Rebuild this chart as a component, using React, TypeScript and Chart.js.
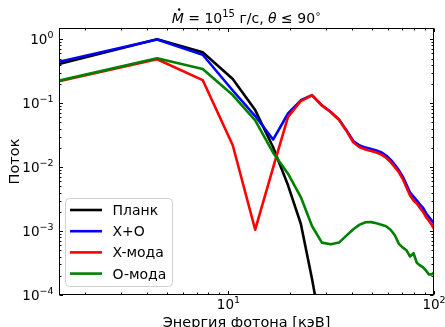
import React, { useEffect, useRef } from "react";
import { Chart, registerables } from "chart.js";

Chart.register(...registerables);

// ---- data ----
const energies = [
  1.5, 4.5, 7.5, 10.5, 13.5, 16.5, 19.5, 22.5, 25.5, 28.5, 31.5, 34.5, 37.5, 40.5, 43.5, 46.5, 49.5,
  52.5, 55.5, 58.5, 61.5, 64.5, 67.5, 70.5, 73.5, 76.5, 79.5, 82.5, 85.5, 88.5, 91.5, 94.5, 97.5, 100.5,
];

const planck = [
  0.41, 1.0, 0.625, 0.239, 0.078, 0.0205, 0.0052, 0.0013, 0.00018, 0.000025, 0.0000035, 0.0000004,
  null, null, null, null, null, null, null, null, null, null, null, null, null, null, null, null, null,
  null, null, null, null, null,
];

const xPlusO = [
  0.445, 0.995, 0.572, 0.158, 0.063, 0.027, 0.069, 0.111, 0.134, 0.0927, 0.0726, 0.0557, 0.0379,
  0.0256, 0.0218, 0.0202, 0.0192, 0.0182, 0.017, 0.0152, 0.0131, 0.0109, 0.0089, 0.0071, 0.0053,
  0.004, 0.00345, 0.003, 0.0026, 0.0023, 0.0019, 0.00166, 0.00146, 0.00128,
];

const xMode = [
  0.22, 0.486, 0.23, 0.022, 0.00105, 0.0098, 0.061, 0.108, 0.133, 0.092, 0.072, 0.055, 0.037,
  0.0245, 0.0205, 0.0188, 0.0178, 0.0169, 0.0157, 0.014, 0.012, 0.01, 0.0083, 0.0065, 0.0048,
  0.0036, 0.003, 0.0027, 0.0023, 0.002, 0.00165, 0.00145, 0.00125, 0.00105,
];

const oMode = [
  0.225, 0.505, 0.342, 0.134, 0.054, 0.0168, 0.0079, 0.0034, 0.0012, 0.00066, 0.00062, 0.00066,
  0.00085, 0.00107, 0.00126, 0.00137, 0.00138, 0.00132, 0.00126, 0.00119, 0.00105, 0.00086, 0.00063,
  0.00055, 0.0005, 0.0004, 0.00045, 0.00032, 0.00029, 0.00027, 0.00024, 0.00021, 0.00021, 0.00023,
];

const seriesLabels = ["Планк", "X+O", "X-мода", "O-мода"];
const seriesColors = ["#000000", "#0000ff", "#ff0000", "#008000"];
const seriesData = [planck, xPlusO, xMode, oMode];

const yTickValues = [1, 0.1, 0.01, 0.001, 0.0001];
const yTickExponents = ["0", "\u22121", "\u22122", "\u22123", "\u22124"];
const xTickValues = [10, 100];
const xTickExponents = ["1", "2"];

const xAxisTitle = "Энергия фотона [кэВ]";
const yAxisTitle = "Поток";

const X_MIN = 1.5;
const X_MAX = 100;
const Y_MIN = 1e-4;
const Y_MAX = 1.5;

const FONT = '"DejaVu Sans", sans-serif';

type Seg = { text: string; font: string; rise?: number; dot?: boolean };

function drawSegs(ctx: CanvasRenderingContext2D, segs: Seg[], x: number, baseline: number, align: string) {
  const widths = segs.map((s) => {
    ctx.font = s.font;
    return ctx.measureText(s.text).width;
  });
  const total = widths.reduce((a, b) => a + b, 0);
  let cx = align === "left" ? x : align === "center" ? x - total / 2 : x - total;
  ctx.textAlign = "left";
  ctx.textBaseline = "alphabetic";
  segs.forEach((s, i) => {
    ctx.font = s.font;
    ctx.fillText(s.text, cx, baseline - (s.rise || 0));
    if (s.dot) {
      ctx.beginPath();
      ctx.arc(cx + widths[i] * 0.62, baseline - 13.5, 1.2, 0, Math.PI * 2);
      ctx.fill();
    }
    cx += widths[i];
  });
}

const decorPlugin = {
  id: "decor",
  afterDraw(chart: any) {
    const ctx: CanvasRenderingContext2D = chart.ctx;
    const { left, right, top, bottom } = chart.chartArea;
    const xs = chart.scales.x;
    const ys = chart.scales.y;
    ctx.save();
    ctx.fillStyle = "#000";
    ctx.strokeStyle = "#000";
    ctx.lineWidth = 1;

    const L = Math.round(left) + 0.5;
    const R = Math.round(right) - 0.5;
    const T = Math.round(top) + 0.5;
    const B = Math.round(bottom) - 0.5;

    // ticks (inward, all four sides)
    const tick = (x1: number, y1: number, x2: number, y2: number) => {
      ctx.beginPath();
      ctx.moveTo(x1, y1);
      ctx.lineTo(x2, y2);
      ctx.stroke();
    };
    const majorLen = 3.5;
    const minorLen = 2;
    for (let d = -1; d <= 2; d++) {
      for (let m = 1; m <= 9; m++) {
        const v = m * Math.pow(10, d);
        if (v < X_MIN || v > X_MAX) continue;
        const len = m === 1 ? majorLen : minorLen;
        const px = Math.round(xs.getPixelForValue(v)) + 0.5;
        tick(px, B, px, B - len);
        tick(px, T, px, T + len);
      }
    }
    for (let d = -5; d <= 1; d++) {
      for (let m = 1; m <= 9; m++) {
        const v = m * Math.pow(10, d);
        if (v < Y_MIN * 0.999 || v > Y_MAX) continue;
        const len = m === 1 ? majorLen : minorLen;
        const py = Math.round(ys.getPixelForValue(v)) + 0.5;
        tick(L, py, L + len, py);
        tick(R, py, R - len, py);
      }
    }
    // frame
    ctx.strokeRect(L, T, R - L, B - T);

    // tick labels
    const tickFont = `13.5px ${FONT}`;
    const supFont = `9.5px ${FONT}`;
    yTickValues.forEach((v, i) => {
      const py = ys.getPixelForValue(v);
      drawSegs(
        ctx,
        [
          { text: "10", font: tickFont },
          { text: yTickExponents[i], font: supFont, rise: 6 },
        ],
        left - 5.5,
        py + 5,
        "right"
      );
    });
    xTickValues.forEach((v, i) => {
      const px = xs.getPixelForValue(v);
      drawSegs(
        ctx,
        [
          { text: "10", font: tickFont },
          { text: xTickExponents[i], font: supFont, rise: 6 },
        ],
        px,
        bottom + 14,
        "center"
      );
    });

    // axis titles
    ctx.font = `14.5px ${FONT}`;
    ctx.textAlign = "center";
    ctx.textBaseline = "alphabetic";
    ctx.fillText(xAxisTitle, (left + right) / 2, 326.5);
    ctx.save();
    ctx.translate(19, (top + bottom) / 2);
    ctx.rotate(-Math.PI / 2);
    ctx.fillText(yAxisTitle, 0, 0);
    ctx.restore();

    // title
    const tf = `14px ${FONT}`;
    const ti = `italic 14px ${FONT}`;
    const ts = `10px ${FONT}`;
    drawSegs(
      ctx,
      [
        { text: "M", font: ti, dot: true },
        { text: " = 10", font: tf },
        { text: "15", font: ts, rise: 6 },
        { text: " г/с, ", font: tf },
        { text: "θ", font: ti },
        { text: " ≤ 90", font: tf },
        { text: "∘", font: ts, rise: 6 },
      ],
      (left + right) / 2,
      23,
      "center"
    );

    // legend
    const lx = 65.5, ly = 198.5, lw = 107, lh = 88;
    ctx.beginPath();
    (ctx as any).roundRect(lx, ly, lw, lh, 4);
    ctx.fillStyle = "rgba(255,255,255,0.8)";
    ctx.fill();
    ctx.strokeStyle = "#d0d0d0";
    ctx.lineWidth = 1;
    ctx.stroke();
    ctx.font = `14px ${FONT}`;
    ctx.textAlign = "left";
    ctx.textBaseline = "alphabetic";
    seriesLabels.forEach((lab, i) => {
      const y = 210 + i * 21.2;
      ctx.strokeStyle = seriesColors[i];
      ctx.lineWidth = 2.6;
      ctx.beginPath();
      ctx.moveTo(70, y);
      ctx.lineTo(102, y);
      ctx.stroke();
      ctx.fillStyle = "#000";
      ctx.fillText(lab, 112.5, y + 5);
    });

    ctx.restore();
  },
};

export default function App() {
  const canvasRef = useRef<HTMLCanvasElement | null>(null);

  useEffect(() => {
    document.body.style.margin = "0";
    const canvas = canvasRef.current;
    if (!canvas) return;
    const chart = new Chart(canvas, {
      type: "line",
      data: {
        datasets: seriesData.map((arr, i) => ({
          label: seriesLabels[i],
          data: energies.map((e, j) => ({ x: e, y: arr[j] })),
          borderColor: seriesColors[i],
          backgroundColor: seriesColors[i],
          borderWidth: 2.6,
          pointRadius: 0,
          tension: 0,
          fill: false,
          order: 4 - i,
          clip: 0,
          borderJoinStyle: "round",
        })),
      } as any,
      options: {
        responsive: false,
        animation: false,
        devicePixelRatio: 1,
        events: [],
        layout: { padding: { top: 28, right: 11, left: 0, bottom: 0 } },
        plugins: {
          legend: { display: false },
          title: { display: false },
          tooltip: { enabled: false },
        },
        scales: {
          x: {
            type: "logarithmic",
            min: X_MIN,
            max: X_MAX,
            grid: { display: false },
            border: { display: false },
            ticks: { display: false },
            afterFit: (s: any) => {
              s.height = 32;
            },
          },
          y: {
            type: "logarithmic",
            min: Y_MIN,
            max: Y_MAX,
            grid: { display: false },
            border: { display: false },
            ticks: { display: false },
            afterFit: (s: any) => {
              s.width = 59;
            },
          },
        },
      } as any,
      plugins: [decorPlugin],
    });
    return () => chart.destroy();
  }, []);

  return (
    <div style={{ width: 445, height: 327, background: "#fff" }}>
      <canvas ref={canvasRef} width={445} height={327} style={{ display: "block" }} />
    </div>
  );
}
